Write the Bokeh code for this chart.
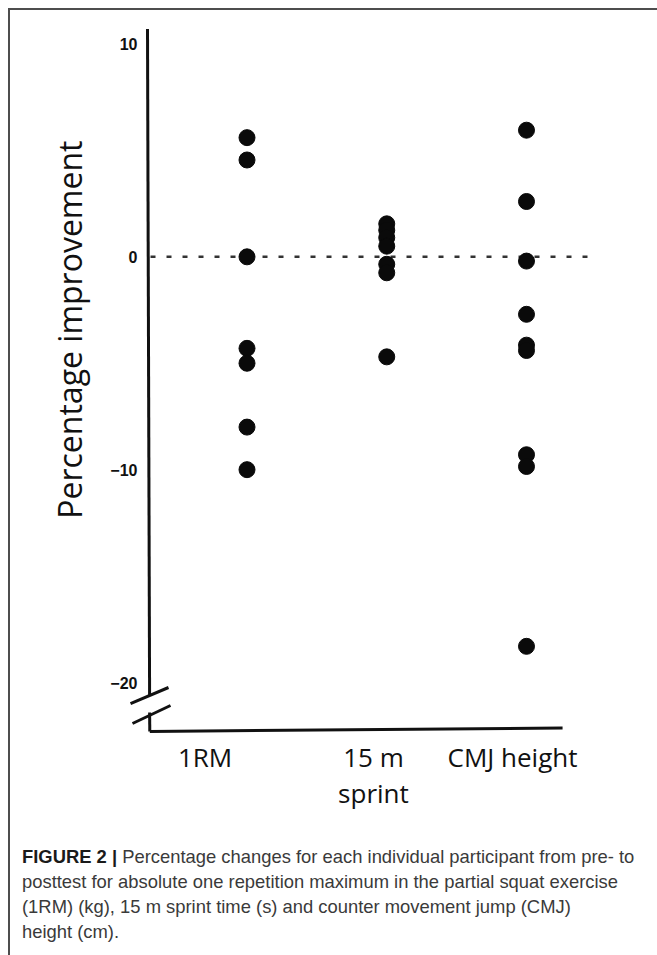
from bokeh.plotting import figure
from bokeh.models import Div, Title, FixedTicker, Range1d
from bokeh.layouts import column
from bokeh.embed import file_html
from bokeh.resources import INLINE

# ---- data ----
categories = ["1RM", "15 m\nsprint", "CMJ height"]
rm_values = [5.6, 4.55, 0.0, -4.3, -5.0, -8.0, -10.0]
sprint_values = [1.55, 1.25, 0.9, 0.5, -0.35, -0.75, -4.7]
cmj_values = [5.95, 2.6, -0.2, -2.7, -4.15, -4.4, -9.3, -9.85, -18.3]
y_ticks = [10, 0, -10, -20]
caption_bold = "FIGURE 2 |"
caption_lines = [
    "Percentage changes for each individual participant from pre- to",
    "posttest for absolute one repetition maximum in the partial squat exercise",
    "(1RM) (kg), 15 m sprint time (s) and counter movement jump (CMJ)",
    "height (cm).",
]

# ---- layout constants ----
cat_pos = [1, 2, 3]
label_pos = [0.70, 1.905, 2.90]
X0, X1 = 0.1377, 3.458
Y0, Y1 = -22.443, 10.728

p = figure(width=630, height=805, x_range=Range1d(X0, X1), y_range=Range1d(Y0, Y1),
           output_backend="svg", toolbar_location=None,
           min_border_left=116, min_border_top=18, min_border_right=50, min_border_bottom=81)
p.outline_line_color = None
p.grid.visible = False
p.background_fill_color = "white"
p.border_fill_color = "white"

# y axis (ticks + labels only)
ya = p.yaxis[0]
ya.ticker = FixedTicker(ticks=y_ticks)
ya.axis_line_color = None
ya.major_tick_line_color = None
ya.minor_tick_line_color = None
ya.major_tick_out = 0
ya.major_tick_in = 0
ya.major_label_standoff = -11
ya.major_label_text_font = "Liberation Sans"
ya.major_label_text_font_style = "bold"
ya.major_label_text_font_size = "16px"
ya.major_label_text_color = "#111111"

# x axis (category labels)
xa = p.xaxis[0]
xa.ticker = FixedTicker(ticks=label_pos)
xa.major_label_overrides = {lp: c for lp, c in zip(label_pos, categories)}
xa.axis_line_color = None
xa.major_tick_line_color = None
xa.minor_tick_line_color = None
xa.major_tick_out = 0
xa.major_tick_in = 0
xa.major_label_standoff = 4
xa.major_label_text_font = "Open Sans"
xa.major_label_text_font_size = "26px"
xa.major_label_text_color = "#111111"
xa.major_label_text_line_height = 1.0

# y axis title
p.add_layout(Title(text="Percentage improvement", text_font="Open Sans",
                   text_font_size="32px", text_font_style="normal",
                   text_color="#111111", align="right", offset=112, standoff=34), "left")

# hand drawn axis lines with break
p.segment(x0=[0.288, 0.303], y0=[10.7, -21.41], x1=[0.303, 0.3044], y1=[-20.611, -22.30],
          line_color="#111111", line_width=3)
p.segment(x0=[0.3044], y0=[-22.30], x1=[3.258], y1=[-22.136], line_color="#111111", line_width=3)
p.segment(x0=[0.1664, 0.1807], y0=[-20.987, -21.926], x1=[0.4383, 0.4526], y1=[-20.235, -21.08],
          line_color="#111111", line_width=3)

# zero reference line
p.segment(x0=[0.3095], y0=[0], x1=[3.4365], y1=[0], line_color="#333333",
          line_width=2.5, line_dash="5 11")

# points
for pos, vals in zip(cat_pos, [rm_values, sprint_values, cmj_values]):
    p.scatter(x=[pos] * len(vals), y=vals, size=16, fill_color="#0a0a0a", line_color="#0a0a0a")

html_caption = ('<div style="padding:24px 0 0 7px; font-family:\'Liberation Sans\', Arial, sans-serif; '
                'font-size:18.4px; line-height:25px; color:#3a3a3a; white-space:nowrap;">'
                '<b style="color:#1a1a1a;">' + caption_bold + '</b> ' + '<br>'.join(caption_lines) + '</div>')
cap = Div(text=html_caption, width=645, height=138)

layout = column(p, cap, styles={"margin": "8px 0 0 8px",
                                "border-top": "2px solid #4d4d4d",
                                "border-left": "2px solid #4d4d4d"})

open("out.html", "w").write(file_html(layout, INLINE))
